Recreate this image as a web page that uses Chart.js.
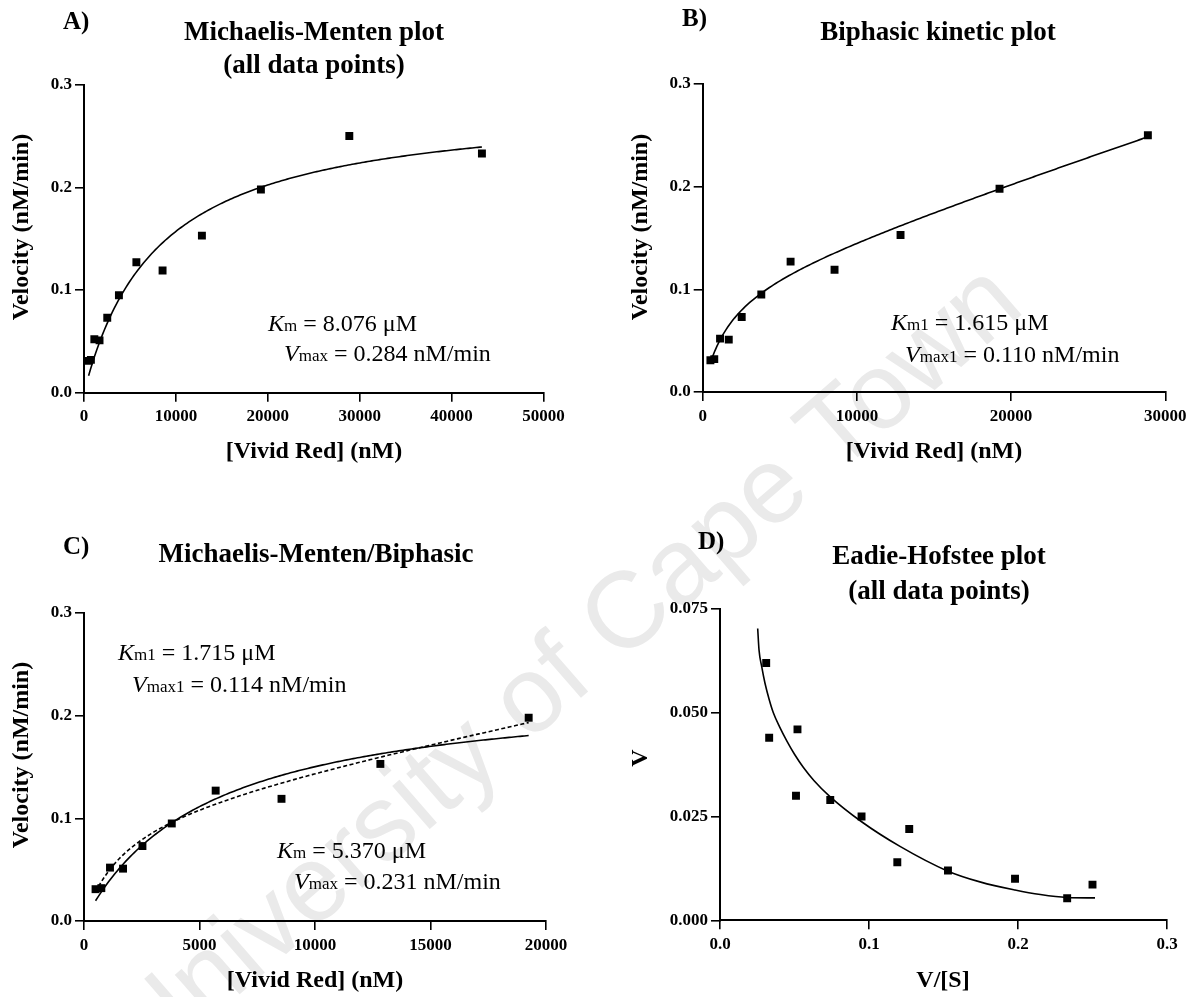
<!DOCTYPE html>
<html>
<head>
<meta charset="utf-8">
<script src="https://cdn.jsdelivr.net/npm/chart.js@4.4.1/dist/chart.umd.min.js"></script>
<style>
  html, body { margin: 0; padding: 0; background: #fff; }
  #page { position: relative; width: 1194px; height: 997px; overflow: hidden; background: #fff; }
  #page canvas { position: absolute; left: 0; top: 0; }
</style>
</head>
<body>
<div id="page">
  <canvas id="panelA" width="1194" height="997"></canvas>
  <canvas id="panelB" width="1194" height="997"></canvas>
  <canvas id="panelC" width="1194" height="997"></canvas>
  <canvas id="panelD" width="1194" height="997"></canvas>
</div>
<script>
// ---- measured data -------------------------------------------------------
// substrate concentration [Vivid Red] (nM) and initial velocity (nM/min)
const vividRedNM    = [500, 750, 1125, 1690, 2530, 3800, 5700, 8550, 12830, 19250, 28870, 43300];
const velocityNMmin = [0.031, 0.032, 0.052, 0.051, 0.073, 0.095, 0.127, 0.119, 0.153, 0.198, 0.250, 0.233];

// Eadie-Hofstee transform, as plotted (x axis "V/[S]", y axis "V")
const ehX = [0.031, 0.033, 0.052, 0.051, 0.074, 0.095, 0.127, 0.119, 0.153, 0.198, 0.250, 0.233];
const ehY = [0.062, 0.044, 0.046, 0.030, 0.029, 0.025, 0.022, 0.014, 0.012, 0.010, 0.0086, 0.0053];

// Eadie-Hofstee trend curve, sampled along the drawn fit
const ehCurveX = [0.0253, 0.0262, 0.0280, 0.0302, 0.0330, 0.0358, 0.0400, 0.0450, 0.0500, 0.0560, 0.0630, 0.0738,
                  0.0948, 0.1208, 0.1526, 0.1750, 0.1980, 0.2150, 0.2326, 0.2517];
const ehCurveY = [0.0703, 0.0651, 0.0611, 0.0571, 0.0532, 0.0500, 0.0466, 0.0431, 0.0400, 0.0368, 0.0337, 0.0298,
                  0.0238, 0.0178, 0.0119, 0.0092, 0.0073, 0.0062, 0.0055, 0.0054];

// ---- fitted kinetic constants (Km in µM, Vmax in nM/min) -------------------
const mmAll  = [8.076, 0.284];   // Michaelis-Menten, all points
const biB    = [1.615, 0.110];   // biphasic, first (saturable) phase
const mmC    = [5.370, 0.231];   // Michaelis-Menten, reduced set
const biC    = [1.715, 0.114];   // biphasic, reduced set
// slope of the non-saturable second phase (nM/min per nM)
const linearPhaseB = 5.0e-6;
const linearPhaseC = 4.6e-6;

// axis tick values
const ticksXA = [0, 10000, 20000, 30000, 40000, 50000];
const ticksXB = [0, 10000, 20000, 30000];
const ticksXC = [0, 5000, 10000, 15000, 20000];
const ticksV  = [0.0, 0.1, 0.2, 0.3];
const ticksXD = [0.0, 0.1, 0.2, 0.3];
const ticksYD = [0.000, 0.025, 0.050, 0.075];

// ---- helpers ---------------------------------------------------------------
const SERIF = '"Liberation Serif", "Times New Roman", serif';
const points = (xs, ys) => xs.map((x, i) => ({ x, y: ys[i] }));

// rate law v = Vmax*S/(Km+S) + k*S, evaluated across the fitted substrate range
function rateCurve(kmMicro, vmax, linear, sFrom, sTo) {
  const km = kmMicro * 1000;
  const out = [];
  const n = 200;
  for (let i = 0; i <= n; i++) {
    const s = sFrom + (sTo - sFrom) * i / n;
    out.push({ x: s, y: vmax * s / (km + s) + linear * s });
  }
  return out;
}

function drawRuns(ctx, item) {
  ctx.save();
  ctx.fillStyle = item.color || '#000';
  ctx.textBaseline = item.baseline || 'alphabetic';
  let width = 0;
  item.runs.forEach(r => { ctx.font = r.font; r.w = ctx.measureText(r.text).width; width += r.w; });
  ctx.translate(item.x, item.y);
  if (item.rotate) ctx.rotate(item.rotate);
  let x = item.align === 'center' ? -width / 2 : (item.align === 'right' ? -width : 0);
  item.runs.forEach(r => { ctx.font = r.font; ctx.fillText(r.text, x, 0); x += r.w; });
  ctx.restore();
}

const panelText = {
  id: 'panelText',
  beforeDraw(chart, args, opts) {
    if (!opts.stamp) return;
    const s = opts.stamp, ctx = chart.ctx;
    ctx.save();
    ctx.translate(s.x, s.y);
    ctx.rotate(s.angle);
    ctx.font = s.font;
    ctx.fillStyle = s.color;
    ctx.fillText(s.text, 0, 0);
    ctx.restore();
  },
  afterDraw(chart, args, opts) {
    (opts.items || []).forEach(item => drawRuns(chart.ctx, item));
  }
};

const bold = px => `bold ${px}px ${SERIF}`;
const reg = px => `${px}px ${SERIF}`;
const ital = px => `italic ${px}px ${SERIF}`;

function label(text, x, y, px, align, rotate) {
  return { runs: [{ text, font: bold(px) }], x, y, align: align || 'center', baseline: 'middle', rotate: rotate || 0 };
}
function constant(sym, sub, rest, x, y) {
  return { runs: [{ text: sym, font: ital(24) }, { text: sub, font: reg(17) }, { text: rest, font: reg(24) }], x, y, align: 'left' };
}

function axis(min, max, values, fmt, pad, fitKey, fitVal) {
  return {
    type: 'linear', min, max,
    afterBuildTicks: s => { s.ticks = values.map(v => ({ value: v })); },
    afterFit: s => { s[fitKey] = fitVal; },
    ticks: {
      color: '#000', padding: pad, maxRotation: 0, autoSkip: false,
      font: { family: SERIF, size: 17, weight: 'bold' },
      callback: fmt
    },
    grid: { display: true, drawOnChartArea: false, drawTicks: true, tickLength: 9, color: '#000', lineWidth: 1.6 },
    border: { display: true, color: '#000', width: 2 }
  };
}

function makePanel(id, area, xAxis, yAxis, datasets, text) {
  return new Chart(document.getElementById(id), {
    type: 'scatter',
    data: { datasets },
    options: {
      responsive: false, animation: false, events: [],
      layout: { padding: { left: area[0] - 70, right: 1194 - area[1], top: area[2], bottom: 997 - area[3] - 40 } },
      scales: { x: xAxis, y: yAxis },
      plugins: { legend: { display: false }, tooltip: { enabled: false }, panelText: text }
    },
    plugins: [panelText]
  });
}

const squares = data => ({ data, pointStyle: 'rect', pointRadius: 5.6, backgroundColor: '#000', borderWidth: 0, showLine: false });
const fitLine = (data, dash, extra) => Object.assign({ data, showLine: true, pointRadius: 0, borderColor: '#000', borderWidth: 1.6, borderDash: dash || [], fill: false, tension: 0 }, extra || {});

const intFmt = v => String(v);
const one = v => Number(v).toFixed(1);
const three = v => Number(v).toFixed(3);

// ---- A) Michaelis-Menten, all points --------------------------------------
makePanel('panelA', [84, 543.5, 84.7, 392.7],
  axis(0, 50000, ticksXA, intFmt, 5, 'height', 40),
  axis(0, 0.3, ticksV, one, 3, 'width', 70),
  [
    squares(points(vividRedNM, velocityNMmin)),
    fitLine(rateCurve(mmAll[0], mmAll[1], 0, vividRedNM[0], vividRedNM[11]))
  ],
  {
    stamp: { text: 'University of Cape Town', x: 148, y: 1074, angle: -41 * Math.PI / 180, font: '108px "Liberation Sans", Arial, sans-serif', color: '#eaeaea' },
    items: [
      label('A)', 63, 23, 25, 'left'),
      label('Michaelis-Menten plot', 314, 33, 27),
      label('(all data points)', 314, 66, 27),
      label('[Vivid Red] (nM)', 314, 452, 24),
      label('Velocity (nM/min)', 22, 227, 24, 'center', -Math.PI / 2),
      constant('K', 'm', ' = 8.076 μM', 268, 331),
      constant('V', 'max', ' = 0.284 nM/min', 284, 361)
    ]
  });

// ---- B) biphasic fit ------------------------------------------------------
makePanel('panelB', [702.7, 1165.3, 84, 392],
  axis(0, 30000, ticksXB, intFmt, 5, 'height', 40),
  axis(0, 0.3, ticksV, one, 3, 'width', 70),
  [
    squares(points(vividRedNM.slice(0, 11), velocityNMmin.slice(0, 11))),
    fitLine(rateCurve(biB[0], biB[1], linearPhaseB, vividRedNM[0], vividRedNM[10]))
  ],
  {
    items: [
      label('B)', 682, 20, 25, 'left'),
      label('Biphasic kinetic plot', 938, 33, 27),
      label('[Vivid Red] (nM)', 934, 452, 24),
      label('Velocity (nM/min)', 641, 227, 24, 'center', -Math.PI / 2),
      constant('K', 'm1', ' = 1.615 μM', 891, 330),
      constant('V', 'max1', ' = 0.110 nM/min', 905, 361.5)
    ]
  });

// ---- C) Michaelis-Menten vs biphasic on the reduced set ----------------------
makePanel('panelC', [84, 546, 613, 921],
  axis(0, 20000, ticksXC, intFmt, 5, 'height', 40),
  axis(0, 0.3, ticksV, one, 3, 'width', 70),
  [
    squares(points(vividRedNM.slice(0, 10), velocityNMmin.slice(0, 10))),
    fitLine(rateCurve(mmC[0], mmC[1], 0, vividRedNM[0], vividRedNM[9])),
    fitLine(rateCurve(biC[0], biC[1], linearPhaseC, vividRedNM[0], vividRedNM[9]), [4, 2.5])
  ],
  {
    items: [
      label('C)', 63, 548, 25, 'left'),
      label('Michaelis-Menten/Biphasic', 316, 555, 27),
      label('[Vivid Red] (nM)', 315, 981, 24),
      label('Velocity (nM/min)', 22, 755, 24, 'center', -Math.PI / 2),
      constant('K', 'm1', ' = 1.715 μM', 118, 660),
      constant('V', 'max1', ' = 0.114 nM/min', 132, 692),
      constant('K', 'm', ' = 5.370 μM', 277, 858),
      constant('V', 'max', ' = 0.231 nM/min', 294, 889)
    ]
  });

// ---- D) Eadie-Hofstee -------------------------------------------------------
makePanel('panelD', [720, 1167, 609, 920.3],
  axis(0, 0.3, ticksXD, one, 5, 'height', 40),
  axis(0, 0.075, ticksYD, three, 3, 'width', 70),
  [
    squares(points(ehX, ehY)),
    fitLine(points(ehCurveX, ehCurveY), [], { cubicInterpolationMode: 'monotone' })
  ],
  {
    items: [
      label('D)', 698, 543, 25, 'left'),
      label('Eadie-Hofstee plot', 939, 557, 27),
      label('(all data points)', 939, 592, 27),
      label('V/[S]', 943, 981, 24),
      label('V', 641, 758, 24, 'center', -Math.PI / 2)
    ]
  });
</script>
</body>
</html>
